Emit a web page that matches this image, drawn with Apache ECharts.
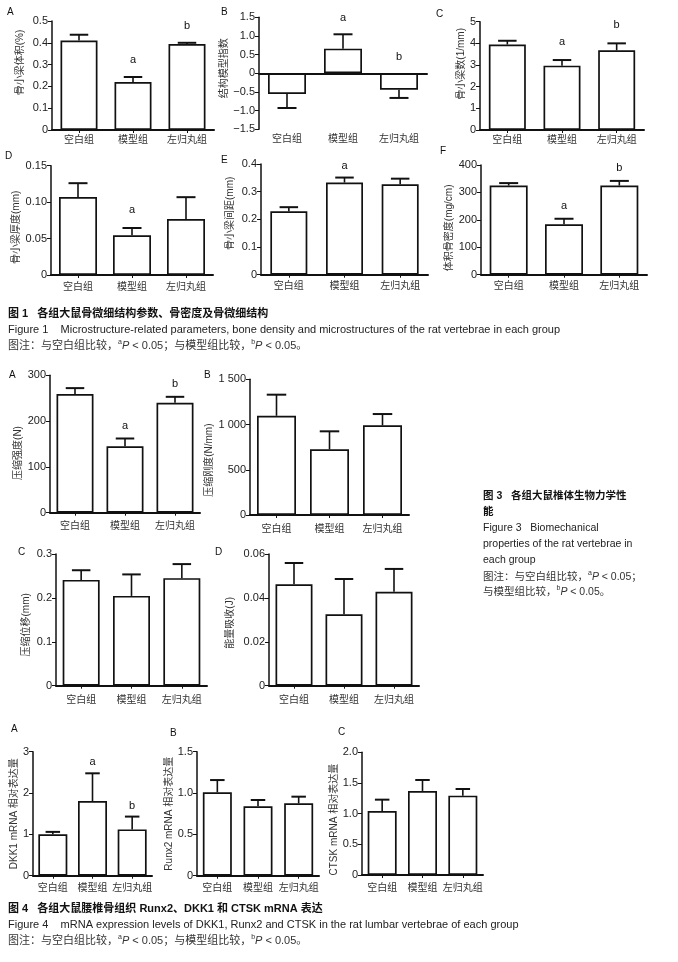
<!DOCTYPE html>
<html><head><meta charset="utf-8">
<script src="https://cdn.jsdelivr.net/npm/echarts@6/dist/echarts.min.js"></script>
<style>html,body{margin:0;padding:0;background:#fff}#c{width:678px;height:962px}</style>
</head><body><div id="c"></div>
<script>
// ---------- DATA ----------
const categories = ['空白组', '模型组', '左归丸组'];

// Figure 1
const fig1A_mean = [0.41, 0.22, 0.394];
const fig1A_err  = [0.027, 0.023, 0.006];
const fig1A_sig  = ['', 'a', 'b'];
const fig1A_ticks = ['0', '0.1', '0.2', '0.3', '0.4', '0.5'];

const fig1B_mean = [-0.555, 0.66, -0.44];
const fig1B_err  = [0.375, 0.385, 0.22];
const fig1B_sig  = ['', 'a', 'b'];
const fig1B_ticks = ['\u22121.5', '\u22121.0', '\u22120.5', '0', '0.5', '1.0', '1.5'];

const fig1C_mean = [3.95, 2.97, 3.68];
const fig1C_err  = [0.17, 0.26, 0.32];
const fig1C_sig  = ['', 'a', 'b'];
const fig1C_ticks = ['0', '1', '2', '3', '4', '5'];

const fig1D_mean = [0.107, 0.0545, 0.0768];
const fig1D_err  = [0.019, 0.010, 0.030];
const fig1D_sig  = ['', 'a', ''];
const fig1D_ticks = ['0', '0.05', '0.10', '0.15'];

const fig1E_mean = [0.229, 0.333, 0.327];
const fig1E_err  = [0.015, 0.018, 0.020];
const fig1E_sig  = ['', 'a', ''];
const fig1E_ticks = ['0', '0.1', '0.2', '0.3', '0.4'];

const fig1F_mean = [325, 184, 325];
const fig1F_err  = [9, 20, 17];
const fig1F_sig  = ['', 'a', 'b'];
const fig1F_ticks = ['0', '100', '200', '300', '400'];

// Figure 3
const fig3A_mean = [259, 145, 240];
const fig3A_err  = [13, 17, 13];
const fig3A_sig  = ['', 'a', 'b'];
const fig3A_ticks = ['0', '100', '200', '300'];

const fig3B_mean = [1097, 726, 991];
const fig3B_err  = [233, 199, 125];
const fig3B_sig  = ['', '', ''];
const fig3B_ticks = ['0', '500', '1 000', '1 500'];

const fig3C_mean = [0.241, 0.2045, 0.245];
const fig3C_err  = [0.022, 0.049, 0.032];
const fig3C_sig  = ['', '', ''];
const fig3C_ticks = ['0', '0.1', '0.2', '0.3'];

const fig3D_mean = [0.0462, 0.0325, 0.0428];
const fig3D_err  = [0.0097, 0.0161, 0.0104];
const fig3D_sig  = ['', '', ''];
const fig3D_ticks = ['0', '0.02', '0.04', '0.06'];

// Figure 4
const fig4A_mean = [1.0, 1.807, 1.12];
const fig4A_err  = [0.06, 0.67, 0.31];
const fig4A_sig  = ['', 'a', 'b'];
const fig4A_ticks = ['0', '1', '2', '3'];

const fig4B_mean = [1.009, 0.839, 0.876];
const fig4B_err  = [0.148, 0.077, 0.080];
const fig4B_sig  = ['', '', ''];
const fig4B_ticks = ['0', '0.5', '1.0', '1.5'];

const fig4C_mean = [1.043, 1.37, 1.293];
const fig4C_err  = [0.185, 0.179, 0.109];
const fig4C_sig  = ['', '', ''];
const fig4C_ticks = ['0', '0.5', '1.0', '1.5', '2.0'];

// ---------- LAYOUT ----------
const LAT = 'Liberation Sans, Arial, Noto Sans CJK SC, sans-serif';
const CJK = 'Noto Sans CJK SC, sans-serif';

const panels = [
  {letter:'A', lx:10, ly:13, left:52, top:21, width:162, height:109, min:0, max:0.5, interval:0.1, ticks:fig1A_ticks, name:'骨小梁体积(%)', nameGap:27, shift:13, mean:fig1A_mean, err:fig1A_err, sig:fig1A_sig, bw:37, lm:4, so:17},
  {letter:'B', lx:224, ly:13, left:259, top:17.3, width:168, height:112, min:-1.5, max:1.5, interval:0.5, ticks:fig1B_ticks, name:'结构模型指数', nameGap:25, shift:5, mean:fig1B_mean, err:fig1B_err, sig:fig1B_sig, bw:38, lm:4, so:16},
  {letter:'C', lx:439, ly:15, left:480, top:21.7, width:164, height:108.3, min:0, max:5, interval:1, ticks:fig1C_ticks, name:'骨小梁数(1/mm)', nameGap:10, shift:12, mean:fig1C_mean, err:fig1C_err, sig:fig1C_sig, bw:37, lm:4, so:18},
  {letter:'D', lx:8, ly:157, left:51, top:165.7, width:162, height:109.3, min:0, max:0.15, interval:0.05, ticks:fig1D_ticks, name:'骨小梁厚度(mm)', nameGap:26, shift:-7, mean:fig1D_mean, err:fig1D_err, sig:fig1D_sig, bw:38, lm:6, so:18},
  {letter:'E', lx:224, ly:161, left:261, top:164, width:167, height:110.7, min:0, max:0.4, interval:0.1, ticks:fig1E_ticks, name:'骨小梁间距(mm)', nameGap:26, shift:6, mean:fig1E_mean, err:fig1E_err, sig:fig1E_sig, bw:37, lm:6, so:12},
  {letter:'F', lx:443, ly:152, left:481, top:165, width:166, height:109.7, min:0, max:400, interval:100, ticks:fig1F_ticks, name:'体积骨密度(mg/cm)', nameGap:25, shift:-8, mean:fig1F_mean, err:fig1F_err, sig:fig1F_sig, bw:38, lm:6, so:13},
  {letter:'A', lx:12, ly:376, left:50, top:375.3, width:150, height:137.4, min:0, max:300, interval:100, ticks:fig3A_ticks, name:'压缩强度(N)', nameGap:24, shift:-9, mean:fig3A_mean, err:fig3A_err, sig:fig3A_sig, bw:37, lm:8, so:13},
  {letter:'B', lx:207, ly:376, left:250, top:379.3, width:159, height:135.7, min:0, max:1500, interval:500, ticks:fig3B_ticks, name:'压缩刚度(N/mm)', nameGap:17, shift:-13, mean:fig3B_mean, err:fig3B_err, sig:fig3B_sig, bw:39, lm:8, so:13},
  {letter:'C', lx:21, ly:553, left:56, top:554, width:151, height:131.7, min:0, max:0.3, interval:0.1, ticks:fig3C_ticks, name:'压缩位移(mm)', nameGap:25, shift:-5, mean:fig3C_mean, err:fig3C_err, sig:fig3C_sig, bw:37, lm:9, so:13},
  {letter:'D', lx:218, ly:553, left:269, top:554, width:150, height:131.7, min:0, max:0.06, interval:0.02, ticks:fig3D_ticks, name:'能量吸收(J)', nameGap:34, shift:-3, mean:fig3D_mean, err:fig3D_err, sig:fig3D_sig, bw:37, lm:9, so:13},
  {letter:'A', lx:14, ly:730, left:33, top:751.7, width:119, height:124, min:0, max:3, interval:1, ticks:fig4A_ticks, name:'DKK1 mRNA 相对表达量', nameGap:12, shift:0, mean:fig4A_mean, err:fig4A_err, sig:fig4A_sig, bw:29, lm:7, so:11},
  {letter:'B', lx:173, ly:734, left:197, top:751.7, width:122, height:124, min:0, max:1.5, interval:0.5, ticks:fig4B_ticks, name:'Runx2 mRNA 相对表达量', nameGap:16, shift:0, mean:fig4B_mean, err:fig4B_err, sig:fig4B_sig, bw:29, lm:7, so:11},
  {letter:'C', lx:341, ly:733, left:362, top:752.3, width:121, height:122.7, min:0, max:2, interval:0.5, ticks:fig4C_ticks, name:'CTSK mRNA 相对表达量', nameGap:17, shift:-6, mean:fig4C_mean, err:fig4C_err, sig:fig4C_sig, bw:29, lm:7, so:11}
];

const option = {animation:false, backgroundColor:'#fff', grid:[], xAxis:[], yAxis:[], series:[], graphic:[]};

panels.forEach((p, i) => {
  option.grid.push({left:p.left, top:p.top, width:p.width, height:p.height});
  const neg = p.min < 0;
  const xi = option.xAxis.length;
  const labelCfg = {margin:p.lm, fontSize:10, color:'#333', fontFamily:CJK, interval:0};
  option.xAxis.push({
    type:'category', gridIndex:i, data:categories, position: neg ? 'top' : 'bottom',
    axisLine:{show:true, onZero:true, lineStyle:{color:'#111', width:2}},
    axisTick:{show:!neg, alignWithLabel:true, length:3, lineStyle:{color:'#111', width:1}},
    axisLabel: neg ? {show:false} : labelCfg,
    splitLine:{show:false}
  });
  if (neg) {
    option.xAxis.push({
      type:'category', gridIndex:i, data:categories, position:'bottom',
      axisLine:{show:false, onZero:false}, axisTick:{show:false},
      axisLabel:labelCfg, splitLine:{show:false}
    });
  }
  const pad = p.shift >= 0 ? [0, 0, 0, 2 * p.shift] : [0, -2 * p.shift, 0, 0];
  option.yAxis.push({
    type:'value', gridIndex:i, min:p.min, max:p.max, interval:p.interval,
    name:p.name, nameLocation:'middle', nameRotate:90, nameGap:p.nameGap,
    nameTextStyle:{fontSize:10, color:'#333', fontFamily:LAT, padding:pad},
    axisLine:{show:true, onZero:false, lineStyle:{color:'#111', width:1.5}},
    axisTick:{show:true, length:4, lineStyle:{color:'#111', width:1}},
    axisLabel:{fontSize:11, color:'#222', fontFamily:LAT, margin:4,
      formatter:(v) => p.ticks[Math.round((v - p.min) / p.interval)]},
    splitLine:{show:false}
  });
  option.series.push({
    type:'bar', xAxisIndex:xi, yAxisIndex:i, data:p.mean, barWidth:p.bw, silent:true,
    itemStyle:{color:'#fff', borderColor:'#111', borderWidth:1.7}
  });
  option.series.push({
    type:'custom', xAxisIndex:xi, yAxisIndex:i, z:5, silent:true,
    data:p.mean.map((m, k) => [k, m, p.err[k]]),
    renderItem:(params, api) => {
      const k = api.value(0), m = api.value(1), e = api.value(2);
      const dir = m < 0 ? -1 : 1;
      const p0 = api.coord([k, m]);
      const p1 = api.coord([k, m + dir * e]);
      const half = p.bw * 0.25;
      const ch = [
        {type:'line', shape:{x1:p0[0], y1:p0[1], x2:p1[0], y2:p1[1]}, style:{stroke:'#111', lineWidth:1.6}},
        {type:'line', shape:{x1:p1[0] - half, y1:p1[1], x2:p1[0] + half, y2:p1[1]}, style:{stroke:'#111', lineWidth:2}}
      ];
      const s = p.sig[k];
      if (s) {
        const pt = api.coord([k, m > 0 ? m + e : 0]);
        ch.push({type:'text', x:pt[0], y:pt[1] - p.so,
          style:{text:s, fill:'#111', fontSize:11, fontFamily:LAT, align:'center', verticalAlign:'middle', textAlign:'center', textVerticalAlign:'middle'}});
      }
      return {type:'group', children:ch};
    }
  });
  option.graphic.push({type:'text', left:p.lx - 3, top:p.ly - 6,
    style:{text:p.letter, fontSize:10, fill:'#111', fontFamily:LAT}});
});

// ---------- CAPTIONS ----------
function makeRich(fs) {
  return {
    sup:{fontSize:Math.round(fs * 0.68), fontFamily:LAT, color:'#333', verticalAlign:'top', lineHeight:fs + 4},
    it:{fontSize:fs, fontStyle:'italic', fontFamily:LAT, color:'#333', lineHeight:fs + 4}
  };
}
function cap(x, y, text, opts) {
  opts = opts || {};
  const fs = opts.fs || 10;
  option.graphic.push({type:'text', left:x, top:y - (fs + 4) / 2,
    style:{text:text, fontSize:fs, lineHeight:fs + 4, fontFamily:LAT, fill:opts.color || '#333',
      fontWeight:opts.bold ? 'bold' : 'normal', rich:makeRich(fs)}});
}
const note1 = '图注：与空白组比较，{sup|a}{it|P} < 0.05；与模型组比较，{sup|b}{it|P} < 0.05。';

cap(8, 314, '图 1   各组大鼠骨微细结构参数、骨密度及骨微细结构', {bold:true, color:'#111', fs:11});
cap(8, 330, 'Figure 1    Microstructure-related parameters, bone density and microstructures of the rat vertebrae in each group', {color:'#222', fs:11});
cap(8, 346, note1, {fs:11});

cap(483, 496, '图 3   各组大鼠椎体生物力学性', {bold:true, color:'#111', fs:10.5});
cap(483, 512, '能', {bold:true, color:'#111', fs:10.5});
cap(483, 528, 'Figure 3   Biomechanical', {color:'#222', fs:10.5});
cap(483, 544, 'properties of the rat vertebrae in', {color:'#222', fs:10.5});
cap(483, 560, 'each group', {color:'#222', fs:10.5});
cap(483, 577, '图注：与空白组比较，{sup|a}{it|P} < 0.05；', {fs:10.5});
cap(483, 592, '与模型组比较，{sup|b}{it|P} < 0.05。', {fs:10.5});

cap(8, 909, '图 4   各组大鼠腰椎骨组织 Runx2、DKK1 和 CTSK mRNA 表达', {bold:true, color:'#111', fs:11});
cap(8, 925, 'Figure 4    mRNA expression levels of DKK1, Runx2 and CTSK in the rat lumbar vertebrae of each group', {color:'#222', fs:11});
cap(8, 941, note1, {fs:11});

const chart = echarts.init(document.getElementById('c'), null, {renderer:'canvas'});
chart.setOption(option);
</script>
</body></html>
